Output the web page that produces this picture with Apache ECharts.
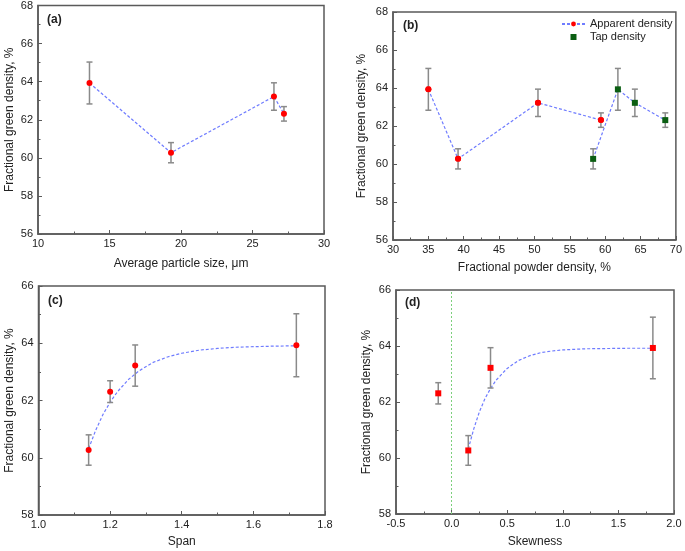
<!DOCTYPE html>
<html><head><meta charset="utf-8">
<script src="https://cdn.jsdelivr.net/npm/echarts@6/dist/echarts.min.js"></script>
<style>html,body{margin:0;padding:0;background:#fff}#c{width:685px;height:551px}</style>
</head><body><div id="c"></div>
<script>
// ---- data ----
const aSize = [13.6, 19.3, 26.5, 27.2];
const aDens = [63.93, 60.27, 63.22, 62.31];
const aErr  = [1.10, 0.53, 0.72, 0.38];

const bAppX = [35.0, 39.2, 50.5, 59.4];
const bAppY = [63.93, 60.27, 63.22, 62.31];
const bAppErr = [1.10, 0.53, 0.72, 0.38];
const bTapX = [58.3, 61.8, 64.2, 68.5];
const bTapY = [60.27, 63.93, 63.22, 62.31];
const bTapErr = [0.53, 1.10, 0.72, 0.38];

const cSpan = [1.14, 1.20, 1.27, 1.72];
const cDens = [60.27, 62.31, 63.22, 63.93];
const cErr  = [0.53, 0.38, 0.72, 1.10];
const cFitX = [1.14, 1.16, 1.18, 1.20, 1.22, 1.25, 1.28, 1.32, 1.36, 1.40, 1.45, 1.50, 1.55, 1.60, 1.66, 1.72];
const cFitY = [60.32, 60.97, 61.51, 61.94, 62.30, 62.72, 63.03, 63.33, 63.52, 63.65, 63.76, 63.82, 63.86, 63.88, 63.90, 63.91];

const dSkew = [-0.12, 0.15, 0.35, 1.81];
const dDens = [62.31, 60.27, 63.22, 63.93];
const dErr  = [0.38, 0.53, 0.72, 1.10];
const dFitX = [0.15, 0.20, 0.25, 0.30, 0.35, 0.40, 0.50, 0.60, 0.70, 0.80, 0.90, 1.00, 1.20, 1.40, 1.60, 1.81];
const dFitY = [60.32, 61.05, 61.65, 62.12, 62.48, 62.78, 63.20, 63.48, 63.65, 63.76, 63.82, 63.86, 63.90, 63.91, 63.92, 63.92];

const panelLabels = ['(a)', '(b)', '(c)', '(d)'];
const xTitles = ['Average particle size, \u03bcm', 'Fractional powder density, %', 'Span', 'Skewness'];
const yTitle = 'Fractional green density, %';

// ---- helpers ----
const FONT = "'Liberation Sans', Arial, sans-serif";
const AX = '#5a5a5a';
const LINE_BLUE = '#6f7cff';
const RED = '#ff0000';
const GREEN = '#0b5e12';

function zip(xs, ys) { return xs.map((x, i) => [x, ys[i]]); }
function errData(xs, ys, es) { return xs.map((x, i) => [x, ys[i] - es[i], ys[i] + es[i]]); }

function errRender(params, api) {
  const x = api.value(0), lo = api.value(1), hi = api.value(2);
  const p1 = api.coord([x, hi]), p2 = api.coord([x, lo]);
  const w = 3;
  const st = { stroke: '#8a8a8a', lineWidth: 1.5 };
  return { type: 'group', children: [
    { type: 'line', shape: { x1: p1[0], y1: p1[1], x2: p2[0], y2: p2[1] }, style: st },
    { type: 'line', shape: { x1: p1[0] - w, y1: p1[1], x2: p1[0] + w, y2: p1[1] }, style: st },
    { type: 'line', shape: { x1: p2[0] - w, y1: p2[1], x2: p2[0] + w, y2: p2[1] }, style: st }
  ]};
}

const grids = [
  { left: 38, top: 5, width: 286, height: 229 },
  { left: 393, top: 12, width: 285, height: 228 },
  { left: 38.5, top: 286, width: 286.5, height: 229 },
  { left: 396, top: 290, width: 278, height: 224 }
].map(g => Object.assign({ show: true, borderColor: AX, borderWidth: 1.5, backgroundColor: 'transparent' }, g));

function xAxis(i, min, max, interval, gap, fmt) {
  return {
    type: 'value', gridIndex: i, min: min, max: max, interval: interval,
    name: xTitles[i], nameLocation: 'middle', nameGap: gap,
    nameTextStyle: { fontFamily: FONT, fontSize: 12, color: '#222' },
    axisLine: { show: true, onZero: false, lineStyle: { color: AX, width: 1.5 } },
    axisTick: { show: true, inside: true, length: 4, lineStyle: { color: AX, width: 1 } },
    minorTick: { show: true, splitNumber: 2, length: 2.5, lineStyle: { color: AX, width: 1 } },
    splitLine: { show: false }, minorSplitLine: { show: false },
    axisLabel: { fontFamily: FONT, fontSize: 11, color: '#222', margin: 4, formatter: fmt || (v => String(v)) }
  };
}
function yAxis(i, min, max, gap) {
  return {
    type: 'value', gridIndex: i, min: min, max: max, interval: 2,
    name: yTitle, nameLocation: 'middle', nameGap: gap, nameRotate: 90,
    nameTextStyle: { fontFamily: FONT, fontSize: 12, color: '#222' },
    axisLine: { show: true, onZero: false, lineStyle: { color: AX, width: 1.5 } },
    axisTick: { show: true, inside: true, length: 4, lineStyle: { color: AX, width: 1 } },
    minorTick: { show: true, splitNumber: 2, length: 2.5, lineStyle: { color: AX, width: 1 } },
    splitLine: { show: false }, minorSplitLine: { show: false },
    axisLabel: { fontFamily: FONT, fontSize: 11, color: '#222', margin: 5 }
  };
}
const f1 = v => v.toFixed(1);

const dashLine = { color: LINE_BLUE, width: 1.2, type: [3, 2] };

function fitLine(name, idx, data) {
  return { name: name, type: 'line', xAxisIndex: idx, yAxisIndex: idx, data: data,
    showSymbol: false, symbol: 'none', lineStyle: dashLine, z: 2, silent: true, animation: false };
}
function errSeries(name, idx, data) {
  return { name: name, type: 'custom', xAxisIndex: idx, yAxisIndex: idx, data: data,
    renderItem: errRender, z: 3, silent: true, animation: false };
}
function pts(name, idx, data, symbol, color) {
  return { name: name, type: 'scatter', xAxisIndex: idx, yAxisIndex: idx, data: data,
    symbol: symbol, symbolSize: 6, itemStyle: { color: color, opacity: 1 }, z: 4, animation: false };
}

const option = {
  animation: false,
  backgroundColor: '#fff',
  textStyle: { fontFamily: FONT },
  grid: grids,
  xAxis: [
    xAxis(0, 10, 30, 5, 24),
    xAxis(1, 30, 70, 5, 22),
    xAxis(2, 1.0, 1.8, 0.2, 21, f1),
    xAxis(3, -0.5, 2.0, 0.5, 22, f1)
  ],
  yAxis: [
    yAxis(0, 56, 68, 22),
    yAxis(1, 56, 68, 25),
    yAxis(2, 58, 66, 22.5),
    yAxis(3, 58, 66, 23)
  ],
  title: panelLabels.map((t, i) => ({
    text: t, padding: 0,
    left: [47, 403, 48, 405][i], top: [14, 20, 295, 297][i],
    textStyle: { fontFamily: FONT, fontSize: 12, fontWeight: 'bold', color: '#222' }
  })),
  legend: {
    data: [{ name: 'Apparent density' }, { name: 'Tap density', icon: 'path://M0,0h10v10h-10z' }],
    symbolKeepAspect: true,
    orient: 'vertical', left: 561, top: 18, itemWidth: 23, itemHeight: 6, itemGap: 1,
    padding: 0,
    textStyle: { fontFamily: FONT, fontSize: 11, color: '#222', lineHeight: 12 },
    selectedMode: false
  },
  series: [
    // (a)
    fitLine('a-line', 0, zip(aSize, aDens)),
    errSeries('a-err', 0, errData(aSize, aDens, aErr)),
    pts('a-pts', 0, zip(aSize, aDens), 'circle', RED),
    // (b)
    { name: 'Apparent density', type: 'line', xAxisIndex: 1, yAxisIndex: 1, data: zip(bAppX, bAppY),
      symbol: 'circle', symbolSize: 6, itemStyle: { color: RED }, lineStyle: dashLine, z: 2, animation: false },
    errSeries('b-app-err', 1, errData(bAppX, bAppY, bAppErr)),
    pts('b-app-pts', 1, zip(bAppX, bAppY), 'circle', RED),
    fitLine('b-tap-line', 1, zip(bTapX, bTapY)),
    errSeries('b-tap-err', 1, errData(bTapX, bTapY, bTapErr)),
    pts('Tap density', 1, zip(bTapX, bTapY), 'rect', GREEN),
    // (c)
    fitLine('c-fit', 2, zip(cFitX, cFitY)),
    errSeries('c-err', 2, errData(cSpan, cDens, cErr)),
    pts('c-pts', 2, zip(cSpan, cDens), 'circle', RED),
    // (d)
    Object.assign(fitLine('d-fit', 3, zip(dFitX, dFitY)), {
      markLine: { silent: true, symbol: 'none', label: { show: false },
        lineStyle: { color: '#7ccf7c', width: 1, type: [2, 2] }, data: [{ xAxis: 0 }] }
    }),
    errSeries('d-err', 3, errData(dSkew, dDens, dErr)),
    pts('d-pts', 3, zip(dSkew, dDens), 'rect', RED)
  ]
};
const chart = echarts.init(document.getElementById('c'), null, { renderer: 'canvas' });
chart.setOption(option);
</script></body></html>
